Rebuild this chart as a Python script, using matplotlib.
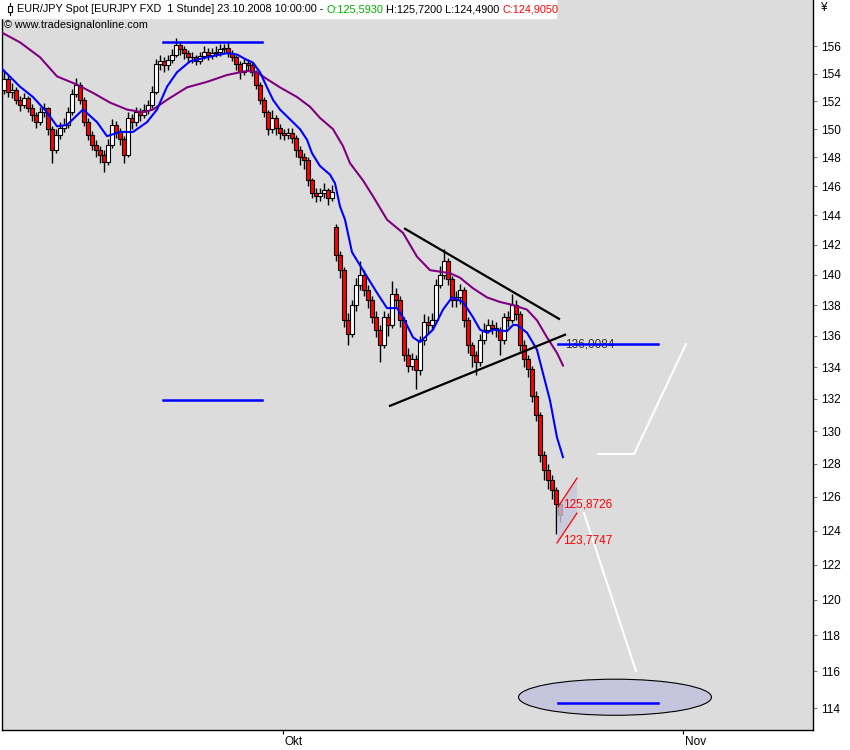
import numpy as np
import matplotlib
matplotlib.use("Agg")
import matplotlib.pyplot as plt
from matplotlib.patches import Ellipse, Polygon, Rectangle
from matplotlib.ticker import FixedLocator, NullLocator, FuncFormatter

# hourly candles (sampled), EUR/JPY spot
opens = [
    152.8, 153.6, 152.7, 152.8, 152.1, 151.7, 152.2, 151.5, 151.0, 150.5,
    151.2, 151.5, 150.0, 148.5, 149.6, 150.1, 150.3, 151.2, 152.5, 153.2,
    152.1, 150.5, 149.6, 148.9, 148.5, 148.2, 147.7, 148.9, 150.3, 149.8,
    149.3, 148.2, 150.8, 150.5, 151.2, 151.0, 151.4, 151.7, 152.7, 154.7,
    154.9, 154.6, 155.0, 155.4, 156.1, 155.8, 155.5, 155.2, 155.2, 154.9,
    155.3, 155.6, 155.4, 155.5, 155.6, 155.8, 155.9, 155.5, 155.2, 154.7,
    154.1, 154.8, 154.6, 154.1, 153.2, 152.1, 151.2, 150.0, 150.8, 150.1,
    149.7, 149.6, 149.7, 149.4, 148.5, 148.0, 147.8, 146.4, 145.5, 145.3,
    145.5, 145.7, 145.2, 143.2, 141.3, 140.3, 137.0, 136.1, 138.0, 139.3,
    140.0, 139.0, 138.3, 137.2, 136.4, 135.4, 137.2, 136.7, 138.7, 138.3,
    137.0, 134.8, 134.1, 134.5, 133.8, 135.7, 136.9, 136.7, 137.0, 139.3,
    140.0, 140.9, 139.7, 138.3, 138.5, 139.0, 137.0, 135.4, 134.8, 134.3,
    135.7, 136.4, 136.7, 136.5, 136.4, 135.7, 137.2, 137.0, 138.0, 137.4,
    135.4, 134.5, 133.9, 132.2, 131.0, 128.5, 127.6, 127.0, 126.4, 125.593,
]
closes = [
    153.6, 152.7, 152.8, 152.1, 151.7, 152.2, 151.5, 151.0, 150.5, 151.2,
    151.5, 150.0, 148.5, 149.6, 150.1, 150.3, 151.2, 152.5, 153.2, 152.1,
    150.5, 149.6, 148.9, 148.5, 148.2, 147.7, 148.9, 150.3, 149.8, 149.3,
    148.2, 150.8, 150.5, 151.2, 151.0, 151.4, 151.7, 152.7, 154.7, 154.9,
    154.6, 155.0, 155.4, 156.1, 155.8, 155.5, 155.2, 155.2, 154.9, 155.3,
    155.6, 155.4, 155.5, 155.6, 155.8, 155.9, 155.5, 155.2, 154.7, 154.1,
    154.8, 154.6, 154.1, 153.2, 152.1, 151.2, 150.0, 150.8, 150.1, 149.7,
    149.6, 149.7, 149.4, 148.5, 148.0, 147.8, 146.4, 145.5, 145.3, 145.5,
    145.7, 145.2, 145.6, 141.3, 140.3, 137.0, 136.1, 138.0, 139.3, 140.0,
    139.0, 138.3, 137.2, 136.4, 135.4, 137.2, 136.7, 138.7, 138.3, 137.0,
    134.8, 134.1, 134.5, 133.8, 135.7, 136.9, 136.7, 137.0, 139.3, 140.0,
    140.9, 139.7, 138.3, 138.5, 139.0, 137.0, 135.4, 134.8, 134.3, 135.7,
    136.4, 136.7, 136.5, 136.4, 135.7, 137.2, 137.0, 138.0, 137.4, 135.4,
    134.5, 133.9, 132.2, 131.0, 128.5, 127.6, 127.0, 126.4, 125.6, 124.905,
]
highs = [
    154.2, 153.9, 153.3, 153.0, 152.4, 152.6, 152.4, 151.8, 151.2, 151.6,
    151.9, 151.6, 150.2, 150.0, 150.5, 150.8, 151.6, 152.9, 153.7, 153.4,
    152.3, 150.8, 149.9, 149.2, 148.8, 148.5, 149.3, 150.7, 150.6, 150.1,
    149.5, 151.2, 151.1, 151.6, 151.5, 151.8, 152.1, 153.1, 155.1, 155.4,
    155.2, 155.4, 155.8, 156.6, 156.3, 156.0, 155.7, 155.6, 155.4, 155.6,
    156.0, 155.9, 155.9, 156.0, 156.2, 156.2, 156.3, 155.7, 155.4, 154.9,
    155.1, 155.1, 154.8, 154.3, 153.4, 152.3, 151.4, 151.4, 151.0, 150.4,
    150.0, 150.1, 150.1, 149.6, 148.8, 148.3, 148.0, 146.6, 145.9, 145.9,
    146.2, 145.9, 146.1, 143.4, 141.6, 140.5, 137.5, 138.3, 139.8, 140.9,
    140.3, 139.3, 138.6, 137.6, 136.7, 137.6, 137.5, 139.6, 139.1, 138.6,
    137.2, 135.2, 134.9, 134.8, 136.0, 137.4, 137.3, 137.5, 139.7, 140.6,
    141.7, 141.1, 139.9, 138.9, 139.4, 139.2, 137.2, 135.6, 135.0, 136.1,
    136.8, 137.1, 137.0, 136.9, 136.6, 137.5, 137.6, 138.7, 138.3, 137.6,
    135.7, 134.8, 134.1, 132.5, 131.2, 128.8, 128.0, 127.3, 126.6, 125.72,
]
lows = [
    152.5, 152.3, 152.2, 151.8, 151.3, 151.5, 151.2, 150.6, 150.1, 150.3,
    150.9, 149.6, 147.6, 148.3, 149.3, 149.8, 150.1, 151.0, 152.3, 151.8,
    150.2, 149.2, 148.5, 148.0, 147.6, 147.0, 147.5, 148.7, 149.4, 148.9,
    147.6, 148.0, 150.0, 150.2, 150.6, 150.8, 151.1, 151.5, 152.5, 154.3,
    154.1, 154.3, 154.8, 155.2, 155.4, 155.1, 154.8, 154.8, 154.6, 154.7,
    155.1, 155.0, 155.1, 155.2, 155.3, 155.5, 155.2, 154.9, 154.3, 153.6,
    153.9, 154.2, 153.8, 152.9, 151.8, 150.9, 149.6, 149.7, 149.6, 149.3,
    149.2, 149.3, 149.0, 148.0, 147.5, 147.2, 146.0, 145.2, 144.9, 145.0,
    145.2, 144.7, 145.0, 140.9, 139.8, 136.6, 135.4, 135.9, 137.6, 139.0,
    138.6, 137.8, 136.8, 135.9, 134.3, 135.2, 136.0, 136.5, 137.9, 136.6,
    134.4, 133.7, 133.8, 132.6, 133.5, 135.4, 136.2, 136.4, 136.8, 139.1,
    139.7, 139.3, 137.9, 137.9, 138.1, 136.6, 134.9, 134.0, 133.5, 134.1,
    135.5, 136.2, 136.1, 135.9, 134.8, 135.5, 136.6, 136.8, 137.0, 135.0,
    134.0, 133.4, 131.8, 130.6, 128.1, 127.0, 126.5, 125.9, 123.8, 124.49,
]

# moving averages (bar index, price)
fast_ma_x = [-1.0, 4.0, 7.25, 10.75, 13.25, 15.75, 19.75, 23.25, 25.75, 29.0,
             32.25, 35.75, 38.25, 40.75, 43.25, 46.5, 50.75, 55.75, 58.25, 60.75,
             62.25, 64.0, 65.75, 67.25, 69.0, 71.5, 74.0, 75.75, 77.0, 79.0,
             81.5, 82.75, 84.0, 85.25, 87.0, 89.75, 93.25, 95.75, 98.25, 99.75,
             102.25, 104.0, 107.25, 109.75, 112.0, 114.75, 117.25, 119.0, 120.75, 122.25,
             125.75, 127.25, 128.25, 130.75, 133.25, 134.75, 136.5, 138.25, 139.75]
fast_ma = [154.5, 153.05, 152.3, 151.2, 150.2, 150.3, 151.4, 150.5, 149.5, 149.8,
           149.8, 150.5, 151.4, 153.05, 154.1, 154.9, 155.2, 155.5, 155.4, 155.0,
           154.8, 154.1, 153.0, 152.1, 151.4, 150.7, 150.0, 149.25, 148.3, 147.4,
           146.8, 146.2, 144.6, 143.7, 141.5, 140.3, 138.8, 137.8, 137.8, 137.2,
           135.9, 135.6, 136.4, 137.7, 138.5, 138.2, 137.2, 136.4, 136.2, 136.4,
           136.3, 136.7, 136.7, 136.2, 135.1, 133.6, 131.9, 129.6, 128.4]
slow_ma_x = [-1.0, 4.0, 9.0, 13.25, 18.25, 22.25, 26.5, 30.75, 34.75, 37.25,
             40.75, 45.75, 50.75, 55.75, 60.75, 63.25, 65.75, 69.0, 73.25, 76.5,
             79.0, 82.25, 84.75, 86.5, 89.75, 92.25, 95.75, 99.75, 103.25, 106.5,
             109.0, 111.5, 114.0, 117.25, 120.75, 124.0, 127.25, 130.75, 133.25, 135.75,
             138.25, 139.75]
slow_ma = [157.1, 156.3, 155.2, 153.8, 153.2, 152.6, 151.9, 151.4, 151.2, 151.4,
           152.1, 153.0, 153.4, 153.9, 154.2, 154.1, 153.6, 153.0, 152.3, 151.6,
           150.8, 150.0, 148.8, 147.6, 146.4, 145.3, 143.7, 142.8, 141.2, 140.3,
           140.2, 140.1, 139.8, 139.1, 138.5, 138.2, 138.0, 137.7, 137.0, 135.9,
           134.9, 134.1]

# drawing tools
top_level_x, top_level = [39.75, 64.5], 156.35
low_level_x, low_level = [39.75, 64.5], 131.93
tri_upper_x, tri_upper = [100.25, 138.75], [143.08, 137.1]
tri_lower_x, tri_lower = [96.5, 140.25], [131.56, 136.07]
target1_x, target1 = [138.5, 163.5], 135.47
path_up_x, path_up = [148.5, 157.5, 170.5], [128.59, 128.59, 135.47]
path_down_x, path_down = [145.0, 158.0], [125.04, 116.01]
zone_center, zone_w, zone_h = (152.75, 114.59), 48.25, 1.96
target2_x, target2 = [138.5, 163.5], 114.3
chan_hi_x, chan_hi = [138.5, 143.25], [125.4, 127.13]
chan_lo_x, chan_lo = [138.25, 143.25], [123.28, 125.04]
month_pos = [69.75, 169.75]
month_lbl = ["Okt", "Nov"]
y_ticks = list(range(114, 157, 2))

W, H = 850, 750
fig = plt.figure(figsize=(W / 100, H / 100), dpi=100)
ax = fig.add_axes([2 / W, 20 / H, 811 / W, 730 / H])
ax.set_facecolor("#dcdcdc")
ax.set_yscale("log")
ax.set_ylim(112.82, 159.47)
ax.set_xlim(-0.5, 202.25)
for s in ["left", "right", "bottom"]:
    ax.spines[s].set_color("black")
    ax.spines[s].set_linewidth(1.0)
ax.spines["top"].set_visible(False)

# candles
x = np.arange(len(closes))
o, c = np.array(opens), np.array(closes)
up = c >= o
ax.vlines(x, lows, highs, color="black", lw=1.0, zorder=3)
ax.bar(x, c - o, bottom=o, width=0.8, color=np.where(up, "white", "red"),
       edgecolor="black", linewidth=0.8, zorder=4)

ax.plot(slow_ma_x, slow_ma, color="#800080", lw=1.5, zorder=5)
ax.plot(fast_ma_x, fast_ma, color="#0000ff", lw=1.5, zorder=6)

ax.plot(top_level_x, [top_level] * 2, color="#0000ff", lw=1.8, zorder=6)
ax.plot(low_level_x, [low_level] * 2, color="#0000ff", lw=1.8, zorder=6)
ax.plot(tri_upper_x, tri_upper, color="black", lw=1.6, zorder=7)
ax.plot(tri_lower_x, tri_lower, color="black", lw=1.6, zorder=7)

ax.text(140.25, target1, "136,0084", fontsize=8.5, family="Liberation Sans",
        color="#303030", va="center", ha="left", zorder=6)
ax.plot(target1_x, [target1] * 2, color="#0000ff", lw=1.8, zorder=7)

ax.plot(path_up_x, path_up, color="white", lw=1.5, zorder=6)
ax.plot(path_down_x, path_down, color="white", lw=1.5, zorder=6)

ax.add_patch(Ellipse(zone_center, zone_w, zone_h, facecolor="#c5c6dd",
                     edgecolor="black", lw=0.8, zorder=5))
ax.plot(target2_x, [target2] * 2, color="#0000ff", lw=1.8, zorder=6)

shade = list(zip(chan_hi_x, chan_hi)) + list(zip(chan_lo_x[::-1], chan_lo[::-1]))
ax.add_patch(Polygon(shade, closed=True, facecolor="#c5c6dd", edgecolor="none",
                     alpha=0.8, zorder=4.5))
ax.plot(chan_hi_x, chan_hi, color="red", lw=0.9, zorder=7)
ax.plot(chan_lo_x, chan_lo, color="red", lw=0.9, zorder=7)
ax.text(139.75, 125.57, "125,8726", fontsize=8.5, family="Liberation Sans",
        color="red", va="center", ha="left", zorder=8)
ax.text(139.75, 123.45, "123,7747", fontsize=8.5, family="Liberation Sans",
        color="red", va="center", ha="left", zorder=8)

# axes
ax.yaxis.tick_right()
ax.yaxis.set_major_locator(FixedLocator(y_ticks))
ax.yaxis.set_minor_locator(NullLocator())
ax.yaxis.set_major_formatter(FuncFormatter(lambda v, p: f"{v:.0f}"))
ax.tick_params(axis="y", direction="out", length=3, color="#808080",
               labelsize=8.5, pad=3)
for lbl in ax.get_yticklabels():
    lbl.set_family("Liberation Sans")
ax.set_xticks(month_pos)
ax.set_xticklabels([])
ax.tick_params(axis="x", direction="out", length=3, color="black", width=0.8)
for pos, name in zip(month_pos, month_lbl):
    ax.text(pos + 0.4, -0.016, name, transform=ax.get_xaxis_transform(),
            fontsize=8.5, family="Liberation Sans", va="center", ha="left")

# header
fig.patches.append(Rectangle((0, 1 - 18 / H), 556 / W, 18 / H,
                             transform=fig.transFigure, color="white", zorder=0))
fig.add_artist(plt.Line2D([10 / W, 10 / W], [1 - 15 / H, 1 - 3 / H],
                          transform=fig.transFigure, color="black", lw=0.8))
fig.patches.append(Rectangle((8 / W, 1 - 12 / H), 4 / W, 6 / H, transform=fig.transFigure,
                             facecolor="white", edgecolor="black", lw=0.8, zorder=3))
parts = [("EUR/JPY Spot [EURJPY FXD  1 Stunde] 23.10.2008 10:00:00 - ", "black"),
         ("O:125,5930", "#00b000"),
         (" H:125,7200 L:124,4900 ", "black"),
         ("C:124,9050", "red")]
renderer = fig.canvas.get_renderer()
xp = 17
for s, col in parts:
    t = fig.text(xp / W, 1 - 9 / H, s, color=col, fontsize=7.8,
                 family="Liberation Sans", va="center", ha="left")
    xp = t.get_window_extent(renderer).x1
fig.text(4 / W, 1 - 25 / H, "\u00a9 www.tradesignalonline.com", fontsize=7.8,
         family="Liberation Sans", va="center", ha="left")
fig.text(820 / W, 1 - 8 / H, "\u00a5", fontsize=8.5, family="Liberation Sans",
         va="center", ha="left")

fig.savefig("out.png", dpi=100, facecolor="white")
